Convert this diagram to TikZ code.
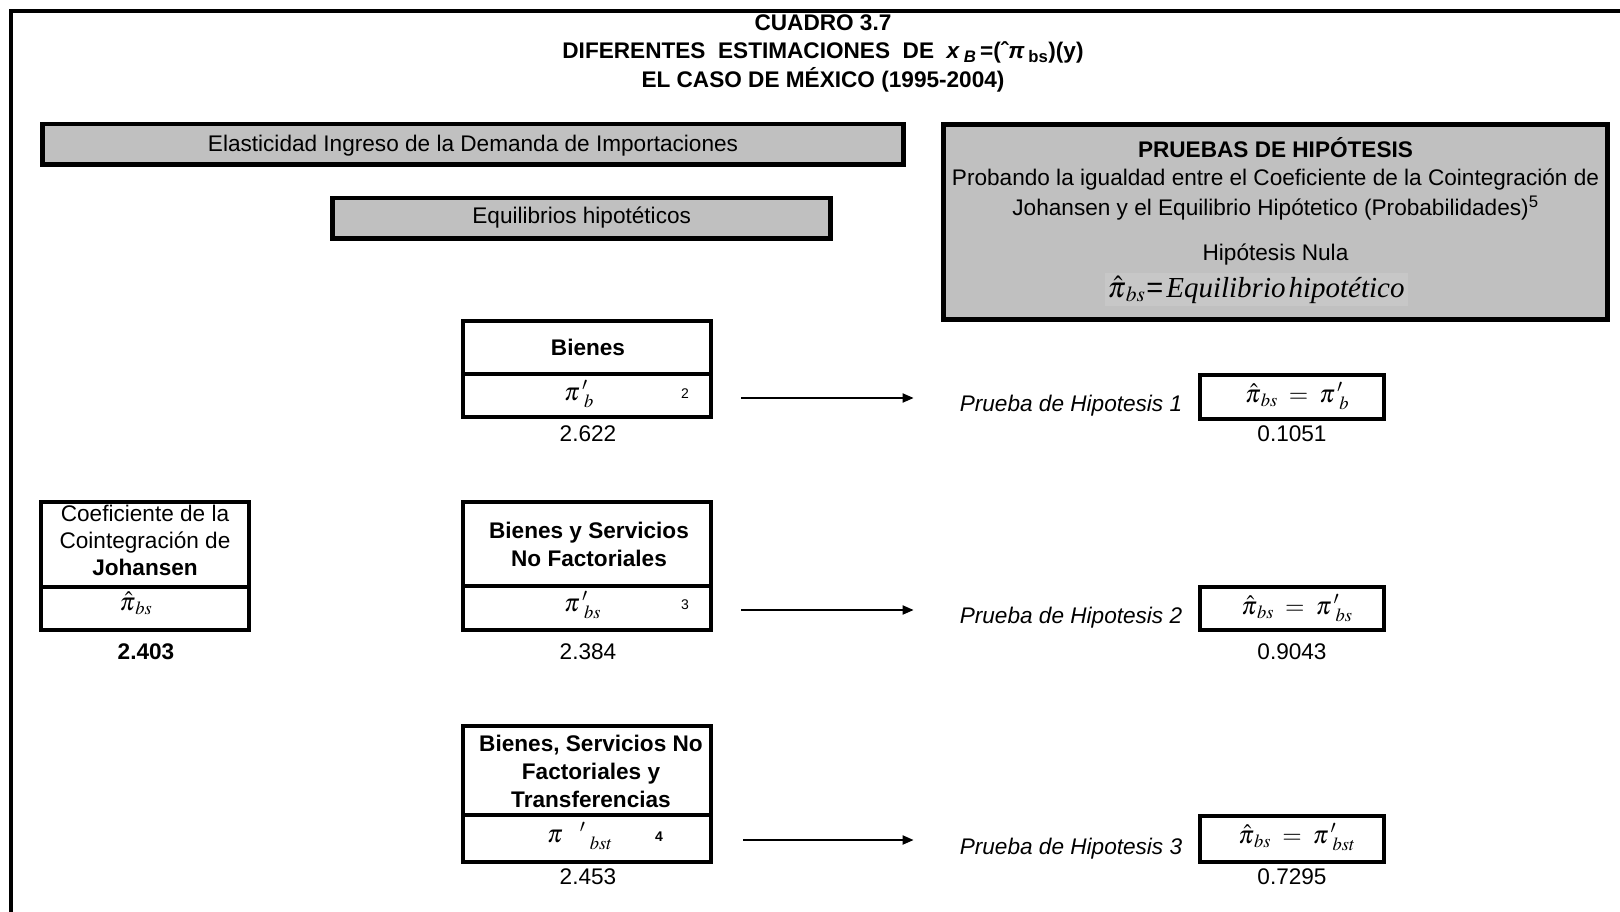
\documentclass[tikz,border=0pt]{standalone}
\usepackage{mathptmx}
\usepackage{fontspec}
\setmainfont{Liberation Sans}
\newfontfamily\tms{Liberation Serif}
\usetikzlibrary{arrows.meta}
\definecolor{boxgray}{RGB}{192,192,192}
\definecolor{formgray}{RGB}{199,199,199}
\begin{document}
\begin{tikzpicture}[x=1pt,y=-1pt,
  frame/.style={line width=4pt,line join=miter},
  gbox/.style={draw=black,line width=4.5pt,fill=boxgray,inner sep=0pt},
  wbox/.style={draw=black,line width=4.5pt,fill=white,inner sep=0pt},
  txt/.style={inner sep=0pt,anchor=base,font=\fontsize{22.6}{27}\selectfont},
  btxt/.style={txt,font=\fontsize{22.6}{27}\selectfont\bfseries},
  itxt/.style={txt,font=\fontsize{22.6}{27}\selectfont\itshape},
  sup/.style={inner sep=0pt,anchor=base,font=\fontsize{14}{14}\selectfont},
  mth/.style={inner sep=0pt,anchor=base,font=\fontsize{25}{25}\selectfont},
  conn/.style={line width=2pt,-{Triangle[length=11pt,width=9pt]}}
]
\useasboundingbox (0,0) rectangle (1620,912);
\draw[frame] (11,912) -- (11,11) -- (1620,11);

% title
\node[btxt] (t1) at (823,30.7) {CUADRO 3.7};
\node[btxt] (t2) at (823,58.6) {DIFERENTES\ \ ESTIMACIONES\ \ DE\ \ \textit{x}\,\textsubscript{\textit{B}}\,=(ˆ\textit{π}\,\textsubscript{bs})(y)};
\node[btxt] (t3) at (823,87.6) {EL CASO DE MÉXICO (1995-2004)};

% gray header boxes
\node[gbox,minimum width=861pt,minimum height=40.5pt] (elas) at (473,144.5) {};
\node[txt] (elast) at (473,151.5) {Elasticidad Ingreso de la Demanda de Importaciones};
\node[gbox,minimum width=498pt,minimum height=40.5pt] (equi) at (581.5,218.5) {};
\node[txt] (equit) at (581.7,224) {Equilibrios hipotéticos};

\node[gbox,minimum width=664pt,minimum height=195pt] (prue) at (1275.5,222) {};
\node[btxt] (pr1) at (1275.5,158) {PRUEBAS DE HIPÓTESIS};
\node[txt] (pr2) at (1275.5,186) {Probando la igualdad entre el Coeficiente de la Cointegración de};
\node[txt] (pr3) at (1275.5,216) {Johansen y el Equilibrio Hipótetico (Probabilidades)\textsuperscript{5}};
\node[txt] (pr4) at (1275.5,261) {Hipótesis Nula};
\node[fill=formgray,inner sep=3pt,anchor=base,font=\fontsize{29}{29}\selectfont] (pr5) at (1256,297)
  {$\hat{\pi}_{\,bs}$\kern1pt=\kern3pt{\tms\itshape Equilibrio\kern3pt hipotético}};

% Bienes
\node[wbox,minimum width=248pt,minimum height=53pt] (bT) at (587,347.5) {};
\node[wbox,minimum width=248pt,minimum height=43pt] (bV) at (587,395.5) {};
\node[btxt] (bTt) at (588,355) {Bienes};
\node[mth,anchor=base west] (bVt) at (564,400) {$\pi^{\,\prime}_{\;\,b}$};
\node[sup] (bVs) at (685,398) {2};
\node[txt] (bN) at (588,441) {2.622};

% Johansen
\node[wbox,minimum width=208pt,minimum height=85pt] (jT) at (145,544.5) {};
\node[wbox,minimum width=208pt,minimum height=43pt] (jV) at (145,608.5) {};
\node[txt] (jT1) at (145,521) {Coeficiente de la};
\node[txt] (jT2) at (145,548) {Cointegración de};
\node[btxt] (jT3) at (145,575) {Johansen};
\node[mth] (jVt) at (136,610) {$\hat{\pi}_{\,bs}$};
\node[btxt] (jN) at (146,659) {2.403};

% Bienes y Servicios No Factoriales
\node[wbox,minimum width=248pt,minimum height=84pt] (sT) at (587,544) {};
\node[wbox,minimum width=248pt,minimum height=44pt] (sV) at (587,608) {};
\node[btxt] (sT1) at (589,538) {Bienes y Servicios};
\node[btxt] (sT2) at (589,566) {No Factoriales};
\node[mth,anchor=base west] (sVt) at (564,611) {$\pi^{\,\prime}_{\;\,bs}$};
\node[sup] (sVs) at (685,609) {3};
\node[txt] (sN) at (588,659) {2.384};

% Bienes, Servicios No Factoriales y Transferencias
\node[wbox,minimum width=248pt,minimum height=89pt] (tT) at (587,770.5) {};
\node[wbox,minimum width=248pt,minimum height=47pt] (tV) at (587,838.5) {};
\node[btxt] (tT1) at (591,751) {Bienes, Servicios No};
\node[btxt] (tT2) at (591,779) {Factoriales y};
\node[btxt] (tT3) at (591,807) {Transferencias};
\node[mth,anchor=base west] (tVt) at (547,842) {$\pi\hspace{17pt}{}^{\prime}_{\hspace{10pt}bst}$};
\node[sup,font=\fontsize{14}{14}\selectfont\bfseries] (tVs) at (659,841) {4};
\node[txt] (tN) at (588,884) {2.453};

% hypothesis tests
\node[itxt] (p1) at (1071,411) {Prueba de Hipotesis 1};
\node[wbox,minimum width=184pt,minimum height=44pt] (h1) at (1292,397) {};
\node[mth] (h1t) at (1297,402) {$\hat{\pi}_{\,bs}\;=\;\pi^{\,\prime}_{\;\,b}$};
\node[txt] (h1n) at (1292,441) {0.1051};

\node[itxt] (p2) at (1071,623) {Prueba de Hipotesis 2};
\node[wbox,minimum width=184pt,minimum height=43pt] (h2) at (1292,608.5) {};
\node[mth] (h2t) at (1297,614) {$\hat{\pi}_{\,bs}\;=\;\pi^{\,\prime}_{\;\,bs}$};
\node[txt] (h2n) at (1292,659) {0.9043};

\node[itxt] (p3) at (1071,854) {Prueba de Hipotesis 3};
\node[wbox,minimum width=184pt,minimum height=46pt] (h3) at (1292,839) {};
\node[mth] (h3t) at (1297,843) {$\hat{\pi}_{\,bs}\;=\;\pi^{\,\prime}_{\;\,bst}$};
\node[txt] (h3n) at (1292,884) {0.7295};

% connectors
\draw[conn,shorten <=28pt,shorten >=46pt] ([yshift=-2.5pt]bV.east) -- ([yshift=-2.5pt]bV.east -| p1.west);
\draw[conn,shorten <=28pt,shorten >=46pt] ([yshift=-2pt]sV.east) -- ([yshift=-2pt]sV.east -| p2.west);
\draw[conn,shorten <=30pt,shorten >=46pt] ([yshift=-1.5pt]tV.east) -- ([yshift=-1.5pt]tV.east -| p3.west);
\end{tikzpicture}
\end{document}
